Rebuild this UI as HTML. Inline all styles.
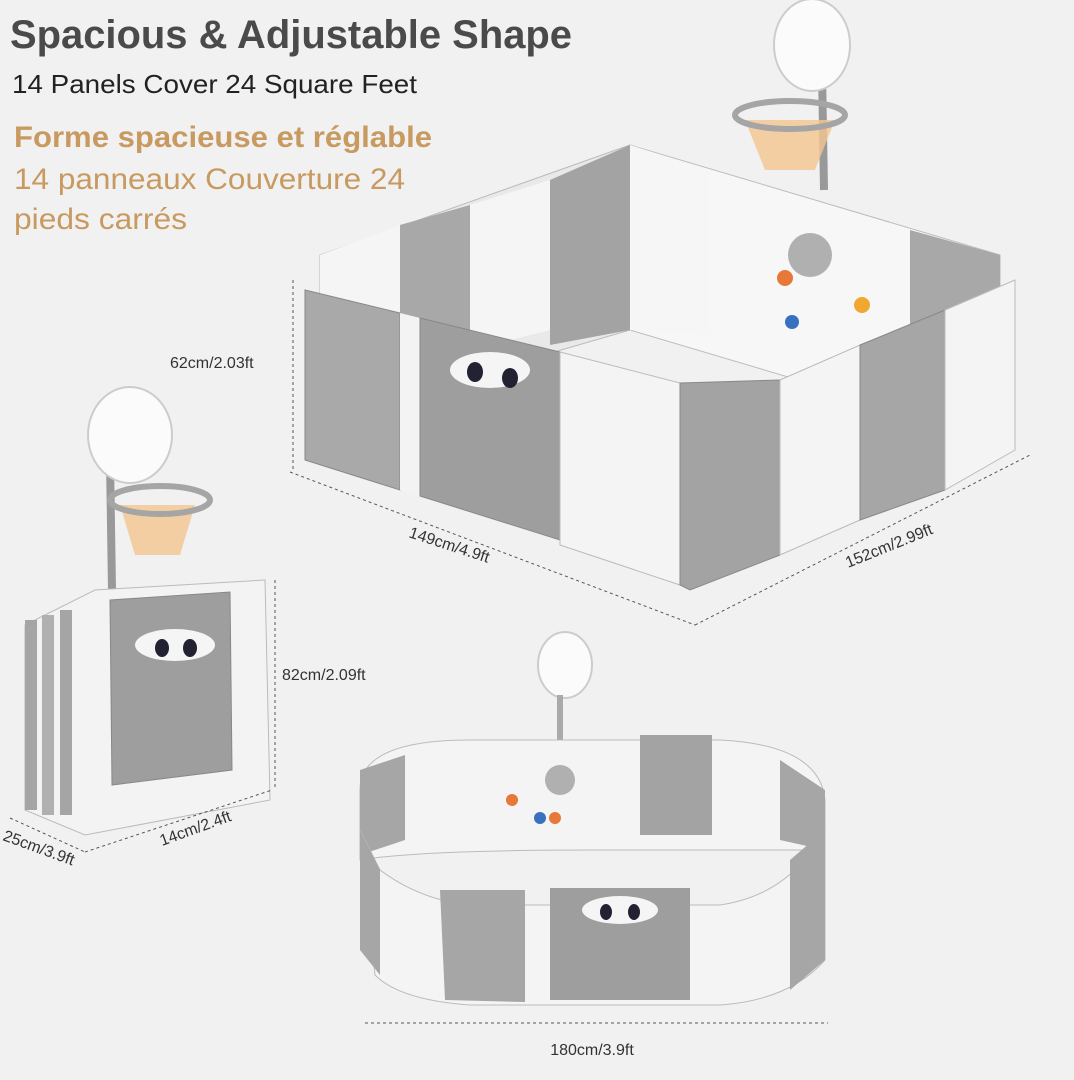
<!DOCTYPE html>
<html><head><meta charset="utf-8"><style>
html,body{margin:0;padding:0;background:#f1f1f1;}
svg{display:block;font-family:"Liberation Sans",sans-serif;}
</style></head><body>
<svg width="1074" height="1080" viewBox="0 0 1074 1080" xmlns="http://www.w3.org/2000/svg">
<rect width="1074" height="1080" fill="#f1f1f1"/>
<text x="10" y="48" font-size="40" fill="#4a4a4a" font-weight="bold" textLength="562" lengthAdjust="spacingAndGlyphs">Spacious &amp; Adjustable Shape</text>
<text x="12" y="93" font-size="26" fill="#222" textLength="405" lengthAdjust="spacingAndGlyphs">14 Panels Cover 24 Square Feet</text>
<text x="14" y="147" font-size="30" fill="#c89a60" font-weight="bold" textLength="418" lengthAdjust="spacingAndGlyphs">Forme spacieuse et réglable</text>
<text x="14" y="189" font-size="30" fill="#c89a60" textLength="391" lengthAdjust="spacingAndGlyphs">14 panneaux Couverture 24</text>
<text x="14" y="229" font-size="30" fill="#c89a60" textLength="173" lengthAdjust="spacingAndGlyphs">pieds carrés</text>

<line x1="822" y1="70" x2="824" y2="190" stroke="#999" stroke-width="8"/>
<ellipse cx="812" cy="45" rx="38" ry="46" fill="#fbfbfb" stroke="#ccc" stroke-width="2"/>
<path d="M745 120 L835 120 L815 170 L765 170 Z" fill="#f4c58f" opacity="0.8"/>
<ellipse cx="790" cy="115" rx="55" ry="14" fill="none" stroke="#a5a5a5" stroke-width="6"/>

<polygon points="320,255 630,145 630,330 320,420" fill="#e9e9e9" stroke="#bbb"/>
<polygon points="630,145 1000,255 1000,440 630,330" fill="#f7f7f7" stroke="#bbb"/>
<polygon points="320,255 400,225 400,370 320,400" fill="#f5f5f5"/>
<polygon points="400,225 470,205 470,350 400,370" fill="#a8a8a8"/>
<polygon points="470,205 550,180 550,330 470,350" fill="#f5f5f5"/>
<polygon points="550,180 630,145 630,330 550,345" fill="#a3a3a3"/>
<polygon points="630,145 710,170 710,335 630,330" fill="#f6f6f6"/>
<polygon points="910,230 1000,255 1000,440 910,400" fill="#a8a8a8"/>
<circle cx="810" cy="255" r="22" fill="#b0b0b0"/>
<circle cx="785" cy="278" r="8" fill="#e8783a"/>
<circle cx="862" cy="305" r="8" fill="#f0a830"/>
<circle cx="792" cy="322" r="7" fill="#3a70c0"/>
<polygon points="305,290 400,313 400,490 305,460" fill="#a9a9a9" stroke="#888"/>
<polygon points="400,313 420,318 420,496 400,490" fill="#f3f3f3"/>
<polygon points="420,318 560,352 560,540 420,496" fill="#9e9e9e" stroke="#888"/>
<ellipse cx="490" cy="370" rx="40" ry="18" fill="#f5f5f5"/>
<ellipse cx="475" cy="372" rx="8" ry="10" fill="#223"/>
<ellipse cx="510" cy="378" rx="8" ry="10" fill="#223"/>
<polygon points="560,352 680,383 680,585 560,545" fill="#f4f4f4" stroke="#bbb"/>
<polygon points="680,383 780,380 780,555 690,590 680,585" fill="#a3a3a3" stroke="#888"/>
<polygon points="780,380 860,345 860,520 780,555" fill="#f4f4f4" stroke="#bbb"/>
<polygon points="860,345 945,310 945,490 860,520" fill="#a6a6a6" stroke="#888"/>
<polygon points="945,310 1015,280 1015,450 945,490" fill="#f4f4f4" stroke="#bbb"/>

<line x1="293" y1="280" x2="293" y2="470" stroke="#555" stroke-dasharray="3,3"/>
<text x="170" y="368" font-size="16" fill="#333">62cm/2.03ft</text>
<line x1="290" y1="472" x2="695" y2="625" stroke="#555" stroke-dasharray="3,3"/>
<line x1="695" y1="625" x2="1030" y2="455" stroke="#555" stroke-dasharray="3,3"/>
<text x="0" y="0" font-size="16" fill="#333" transform="translate(408,537) rotate(18)">149cm/4.9ft</text>
<text x="0" y="0" font-size="16" fill="#333" transform="translate(848,568) rotate(-22)">152cm/2.99ft</text>

<line x1="110" y1="460" x2="112" y2="590" stroke="#999" stroke-width="8"/>
<ellipse cx="130" cy="435" rx="42" ry="48" fill="#fbfbfb" stroke="#ccc" stroke-width="2"/>
<path d="M120 505 L195 505 L180 555 L135 555 Z" fill="#f4c58f" opacity="0.8"/>
<ellipse cx="160" cy="500" rx="50" ry="14" fill="none" stroke="#a5a5a5" stroke-width="6"/>
<polygon points="25,625 95,590 265,580 270,800 85,835 25,810" fill="#f3f3f3" stroke="#bbb"/>
<rect x="25" y="620" width="12" height="190" fill="#a5a5a5"/>
<rect x="42" y="615" width="12" height="200" fill="#b0b0b0"/>
<rect x="60" y="610" width="12" height="205" fill="#a5a5a5"/>
<polygon points="110,600 230,592 232,770 112,785" fill="#9e9e9e" stroke="#888"/>
<ellipse cx="175" cy="645" rx="40" ry="16" fill="#f5f5f5"/>
<ellipse cx="162" cy="648" rx="7" ry="9" fill="#223"/>
<ellipse cx="190" cy="648" rx="7" ry="9" fill="#223"/>
<line x1="275" y1="580" x2="275" y2="790" stroke="#555" stroke-dasharray="3,3"/>
<text x="282" y="680" font-size="16" fill="#333">82cm/2.09ft</text>
<line x1="85" y1="852" x2="272" y2="790" stroke="#555" stroke-dasharray="3,3"/>
<line x1="10" y1="818" x2="85" y2="852" stroke="#555" stroke-dasharray="3,3"/>
<text x="0" y="0" font-size="16" fill="#333" transform="translate(162,846) rotate(-20)">14cm/2.4ft</text>
<text x="0" y="0" font-size="16" fill="#333" transform="translate(2,840) rotate(20)">25cm/3.9ft</text>

<ellipse cx="565" cy="665" rx="27" ry="33" fill="#fbfbfb" stroke="#ccc" stroke-width="2"/>
<line x1="560" y1="695" x2="560" y2="740" stroke="#aaa" stroke-width="6"/>
<path d="M360 790 Q360 740 470 740 L720 740 Q820 745 825 800 L825 850 Q760 850 592 850 Q420 850 360 860 Z" fill="#f4f4f4" stroke="#bbb"/>
<polygon points="360,770 405,755 405,840 360,855" fill="#a6a6a6"/>
<polygon points="640,735 712,735 712,835 640,835" fill="#a3a3a3"/>
<polygon points="780,760 825,790 825,850 780,840" fill="#a6a6a6"/>
<circle cx="560" cy="780" r="15" fill="#b0b0b0"/>
<circle cx="512" cy="800" r="6" fill="#e8783a"/>
<circle cx="555" cy="818" r="6" fill="#e8783a"/>
<circle cx="540" cy="818" r="6" fill="#3a70c0"/>
<path d="M360 830 L380 870 Q420 900 470 905 L720 905 Q790 895 825 830 L825 960 Q790 1000 720 1005 L470 1005 Q400 1000 375 975 Z" fill="#f4f4f4" stroke="#bbb"/>
<polygon points="360,830 380,870 380,975 360,950" fill="#a6a6a6"/>
<polygon points="440,890 525,890 525,1002 445,1000" fill="#a6a6a6"/>
<polygon points="550,888 690,888 690,1000 550,1000" fill="#9e9e9e"/>
<ellipse cx="620" cy="910" rx="38" ry="14" fill="#f5f5f5"/>
<ellipse cx="606" cy="912" rx="6" ry="8" fill="#223"/>
<ellipse cx="634" cy="912" rx="6" ry="8" fill="#223"/>
<polygon points="790,860 825,830 825,960 790,990" fill="#a6a6a6"/>
<line x1="365" y1="1023" x2="828" y2="1023" stroke="#555" stroke-dasharray="3,3"/>
<text x="592" y="1055" font-size="16" fill="#333" text-anchor="middle">180cm/3.9ft</text>
</svg>
</body></html>
